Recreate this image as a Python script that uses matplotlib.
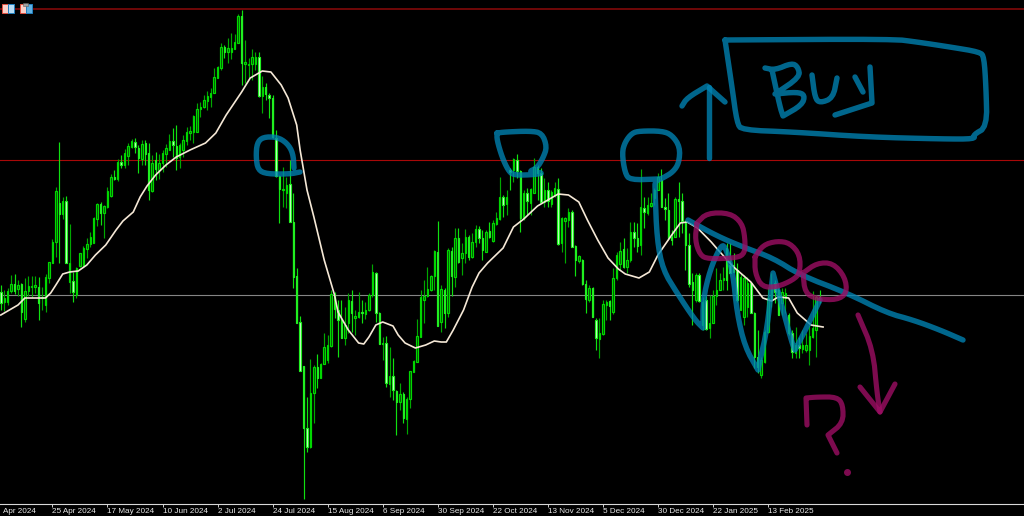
import matplotlib
matplotlib.use("Agg")
import matplotlib.pyplot as plt
from matplotlib.patches import Rectangle

# Prices in chart rows, so the price axis runs downwards
opens = [292,302,302,291,284,289,284,319,291,287, 287,287,298,305,278,263,242,203,214,201,
         282,281,295,266,266,249,244,243,219,204, 213,207,196,177,179,162,165,156,147,142,
         148,159,143,153,191,160,170,163,154,150, 141,146,157,150,141,133,132,132,109,107,
         101,97,93,78,68,47,52,52,49,43, 16,64,65,64,64,57,96,87,95,98,
         138,176,190,193,184,222,276,322,366,428, 447,393,367,378,364,360,346,297,310,320,
         338,323,301,318,317,312,314,310,295,273, 313,344,343,384,376,391,402,394,419,399,
         372,362,337,300,296,290,276,252,322,290, 313,251,277,238,258,253,237,257,242,229,
         238,252,231,241,224,219,197,204,170,170, 160,171,218,193,203,193,167,173,202,190,
         204,195,189,243,221,220,212,246,261,260, 284,300,288,320,339,334,305,301,312,278,
         264,249,267,260,232,238,245,208,213,206, 198,190,180,207,210,237,237,199,201,222,
         245,282,300,275,325,300,328,323,296,290, 280,248,265,265,270,310,317,307,283,313,
         357,375,362,332,300,283,290,303,298,315, 333,353,345,349,350,350,337,330,297]
highs = [285,290,288,275,274,280,283,278,276,276, 276,277,287,274,262,239,187,142,197,196,
         224,272,267,253,246,238,232,217,203,202, 205,187,174,170,159,155,149,143,139,138,
         145,140,140,143,155,152,154,150,144,134, 128,125,143,135,127,126,115,103,102,95,
         91,88,68,66,43,45,38,33,34,14, 10,40,58,49,52,52,76,83,93,95,
         130,175,167,177,160,193,268,316,366,397, 359,365,354,363,333,335,290,292,300,300,
         307,293,290,310,292,300,302,293,264,272, 312,337,336,347,358,390,383,392,397,371,
         360,319,290,280,267,275,250,221,285,288, 248,247,228,228,243,229,235,233,225,226,
         230,230,222,220,212,177,195,190,168,158, 154,170,190,188,188,158,165,168,178,182,
         190,182,178,217,217,208,210,245,255,259, 280,285,287,318,318,300,300,300,268,252,
         242,238,248,222,222,223,169,197,197,193, 188,173,169,198,193,230,197,182,193,220,
         233,273,273,273,297,296,295,290,268,273, 267,243,243,253,263,273,275,277,282,312,
         330,357,330,287,273,280,288,288,288,313, 330,327,337,330,333,325,291,295,290]
lows = [310,311,305,293,294,296,327,322,296,297, 293,320,310,312,283,263,257,263,219,263,
        293,302,298,267,267,258,247,243,226,225, 238,208,197,180,181,168,168,165,148,153,
        173,165,165,200,192,180,179,172,167,150, 157,170,168,157,145,140,143,132,117,108,
        110,107,93,78,70,58,63,59,49,43, 85,83,78,80,70,97,113,100,118,138,
        177,223,207,208,222,288,323,371,499,452, 448,423,388,378,364,363,347,318,357,338,
        345,333,332,335,318,323,319,311,297,322, 344,360,387,397,400,435,410,423,434,408,
        372,362,337,323,297,291,290,326,332,328, 317,296,287,263,275,263,260,258,247,243,
        260,252,238,242,225,220,217,215,190,182, 178,232,220,215,215,193,200,203,207,207,
        207,197,245,252,263,227,247,276,263,285, 313,302,317,350,358,335,320,320,314,280,
        270,268,273,262,247,252,255,228,215,207, 205,190,207,220,240,245,237,237,233,270,
        287,325,302,302,330,330,338,323,305,290, 290,290,273,272,302,310,325,317,313,368,
        373,378,363,333,307,303,315,315,313,335, 358,358,358,353,352,365,338,357,303]
closes = [303,298,291,284,291,285,312,291,286,286, 285,303,297,277,262,242,191,214,201,263,
          263,292,268,253,248,244,237,218,204,213, 206,191,177,179,162,165,153,146,141,147,
          158,144,154,190,163,169,163,153,148,141, 145,158,145,140,132,131,116,109,107,100,
          96,93,77,67,47,52,48,48,42,16, 63,62,64,57,57,96,87,94,98,137,
          176,189,189,185,222,277,323,371,428,447, 393,367,378,364,347,345,294,309,320,338,
          325,300,313,316,312,313,310,295,272,313, 344,343,383,376,390,402,394,418,399,371,
          361,336,297,296,289,276,251,326,289,313, 250,276,238,262,253,237,257,242,229,238,
          250,232,237,223,218,197,205,197,172,159, 171,218,193,201,189,167,173,202,190,201,
          192,188,244,218,218,212,247,260,256,284, 299,288,317,338,333,304,302,306,278,255,
          251,267,260,232,238,246,207,212,205,203, 190,177,207,209,238,240,199,201,221,245,
          284,290,275,301,302,329,323,296,290,280, 278,280,273,272,300,277,278,283,313,357,
          367,360,332,298,285,292,315,292,293,333, 352,345,348,345,345,336,328,297,299]

ma_bars = [0,3,5,7,9,13,14.5,16,18,20,22.5,25,27.5,30.5,33.5,35.5,38.5,40.5,42.5,45,48,51,55,59.5,
           62.5,65.5,70,72.5,76,78.5,81.5,83.5,86,87,89,91,94,97,98,101,104,105.5,107,109,111,114,
           115.5,117.5,120.5,123.5,126,128,129.5,131.5,134.5,137,139,141.5,146,149,152,156,160,162,
           165,168,170.5,173.5,176.5,179.5,181.5,185.5,188.5,191,195,197.5,199.5,202.5,206.5,208.5,
           213,218,221.5,224,226,229,231.5,235.5,239]
ma_vals = [315,309,305,298,298,298,293,285,274,272,271,265,255,245,230,221,212,197,186,175,165,157,
           150,143,133,115,92,78,71,72,85,98,125,150,190,217,260,295,312,330,343,344,337,325,322,326,
           335,343,348,345,341,342,342,330,310,287,273,263,248,227,219,206,198,194,195,202,220,240,
           258,269,274,278,272,255,235,223,222,228,242,250,267,282,298,301,297,298,313,325,327]

# Horizontal levels
level_prices = [9, 159.5, 295]
level_colors = ["#8c0a0a", "#a80808", "#858585"]
level_widths = [1.1, 0.8, 0.8]

tick_bars = [15,31,47,63,79,95,111,127,143,159,175,191,207,223]
tick_labels = ["25 Apr 2024","17 May 2024","10 Jun 2024","2 Jul 2024","24 Jul 2024","15 Aug 2024",
               "6 Sep 2024","30 Sep 2024","22 Oct 2024","13 Nov 2024","5 Dec 2024","30 Dec 2024",
               "22 Jan 2025","13 Feb 2025"]

# Hand drawn marks, in picture pixels
blue_strokes = [
    [(300,172),(290,174),(267,174),(258,170),(256,157),(257,143),(263,137),(277,137),(287,143),(293,153),(294,168)],
    [(497,133),(505,132),(530,131),(542,133),(547,147),(543,158),(537,168),(528,172),(545,173),(530,175),(513,175),(508,170),(502,157),(497,140),(497,133)],
    [(658,179),(630,180),(625,173),(622,153),(625,142),(632,133),(640,131),(662,131),(672,135),(680,147),(679,163),(673,172),(663,178),(655,181),
     (655,190),(657,240),(663,270),(677,293),(695,320),(703,328),(703,328),(703,300),(710,270),(720,247),(725,245),(733,273),(737,313),(745,347),(758,370),(758,370),
     (760,360),(767,330),(773,273),(773,273),(783,310),(792,343),(795,350),(795,350),(807,327),(820,300)],
    [(688,220),(717,236),(743,247),(773,258),(800,275),(847,293),(887,313),(913,320),(940,330),(963,340)],
    [(725,40),(725,40),(893,39),(917,42),(950,47),(980,52),(984,57),(986,87),(987,127),(973,135),(975,139),(943,139),(867,137),(793,132),(742,130),(737,123),(732,87),(725,40),(725,40)],
    [(765,68),(775,70),(792,63),(798,67),(800,77),(775,94),(775,94),(797,92),(805,95),(802,105),(783,116),(783,116),(780,107),(772,70)],
    [(812,75),(815,98),(820,103),(833,98),(837,78)],
    [(855,77),(863,92)],
    [(870,67),(872,103),(872,103),(835,115)],
    [(709,158),(709,87)],
    [(682,106),(687,98),(707,86),(707,86),(725,102)],
]
purple_strokes = [
    [(697,223),(707,213),(730,213),(742,223),(745,238),(745,253),(737,258),(708,259),(700,255),(695,240),(697,223)],
    [(755,257),(763,245),(777,241),(790,243),(800,255),(800,273),(793,280),(777,287),(762,287),(755,273),(755,257)],
    [(803,273),(817,263),(833,263),(845,277),(847,293),(837,300),(817,299),(805,293),(803,273)],
    [(858,315),(873,350),(877,393),(880,412)],
    [(860,387),(880,412),(880,412),(895,384)],
    [(807,425),(806,398),(806,398),(817,397),(837,397),(843,405),(843,423),(828,435),(828,435),(837,453)],
]


def rounded(stroke):
    # Cut the corners twice so a pen stroke does not look like a polygon
    for _ in range(2):
        pts = [stroke[0]]
        for (x0, y0), (x1, y1) in zip(stroke[:-1], stroke[1:]):
            pts.append((0.75 * x0 + 0.25 * x1, 0.75 * y0 + 0.25 * y1))
            pts.append((0.25 * x0 + 0.75 * x1, 0.25 * y0 + 0.75 * y1))
        pts.append(stroke[-1])
        stroke = pts
    return stroke


fig = plt.figure(figsize=(10.24, 5.16), dpi=100, facecolor="black")
ax = fig.add_axes([0, 12 / 516, 1, 504 / 516], facecolor="black")

for price, col, lw in zip(level_prices, level_colors, level_widths):
    ax.axhline(price, color=col, lw=lw, zorder=1)

# Candles
up_bars = [i for i in range(len(opens)) if closes[i] < opens[i]]
down_bars = [i for i in range(len(opens)) if closes[i] >= opens[i]]

ax.vlines(up_bars, [highs[i] for i in up_bars], [lows[i] for i in up_bars],
          colors="#00a800", lw=0.85, zorder=2)
ax.vlines(down_bars, [highs[i] for i in down_bars], [lows[i] for i in down_bars],
          colors="#10e010", lw=0.85, zorder=2)
ax.bar(up_bars, [opens[i] - closes[i] for i in up_bars], bottom=[closes[i] for i in up_bars],
       width=0.42, color="#005000", edgecolor="#00d800", lw=0.85, zorder=3)
ax.bar(down_bars, [closes[i] - opens[i] for i in down_bars], bottom=[opens[i] for i in down_bars],
       width=0.42, color="#dcffdc", edgecolor="#20f020", lw=0.85, zorder=3)

ax.plot(ma_bars, ma_vals, color="#f5e8d6", lw=1.2, zorder=4)

ax.set_xlim(-0.2326, 297.4)
ax.set_ylim(504, 0)
ax.set_yticks([])
ax.set_xticks(tick_bars)
ax.set_xticklabels(tick_labels, ha="left", family="Liberation Sans", fontsize=5.9, color="#e8e8e8")
ax.tick_params(axis="x", direction="out", length=2.5, width=0.7, color="#d0d0d0", pad=0.4)
for side in ["top", "left", "right"]:
    ax.spines[side].set_visible(False)
ax.spines["bottom"].set_color("#d8d8d8")
ax.spines["bottom"].set_linewidth(0.8)
ax.annotate("Apr 2024", (0.003, 0), xycoords="axes fraction", xytext=(0, -3), textcoords="offset points",
            ha="left", va="top", family="Liberation Sans", fontsize=5.9, color="#e8e8e8")

# Drawing layer on top, same size as the picture
ov = fig.add_axes([0, 0, 1, 1], facecolor="none")
ov.set_xlim(0, 1024)
ov.set_ylim(516, 0)
ov.axis("off")

for stroke in blue_strokes:
    xs, ys = zip(*rounded(stroke))
    ov.plot(xs, ys, color="#0084b4", alpha=0.78, lw=3.9, solid_capstyle="round", solid_joinstyle="round")
for stroke in purple_strokes:
    xs, ys = zip(*rounded(stroke))
    ov.plot(xs, ys, color="#9d0e64", alpha=0.8, lw=3.7, solid_capstyle="round", solid_joinstyle="round")
ov.plot([847], [472], "o", color="#7e0b50", ms=4)

# Two small toolbar icons in the corner
ov.add_patch(Rectangle((1.5, 3.5), 6, 9, fc="#fbd0c8", ec="#e05040", lw=0.7))
ov.add_patch(Rectangle((7.5, 3.5), 6, 9, fc="#b8dcf4", ec="#2080c0", lw=0.7))
ov.add_patch(Rectangle((19.5, 3.5), 6, 9, fc="#fbd0c8", ec="#e05040", lw=0.7))
ov.add_patch(Rectangle((26, 3.5), 5.5, 9, fc="#60b0e0", ec="#2080c0", lw=0.7))
ov.add_patch(Rectangle((23, 3), 5, 3, fc="#a0a0a0", ec="#606060", lw=0.4))

fig.savefig("out.png", dpi=100, facecolor="black")
